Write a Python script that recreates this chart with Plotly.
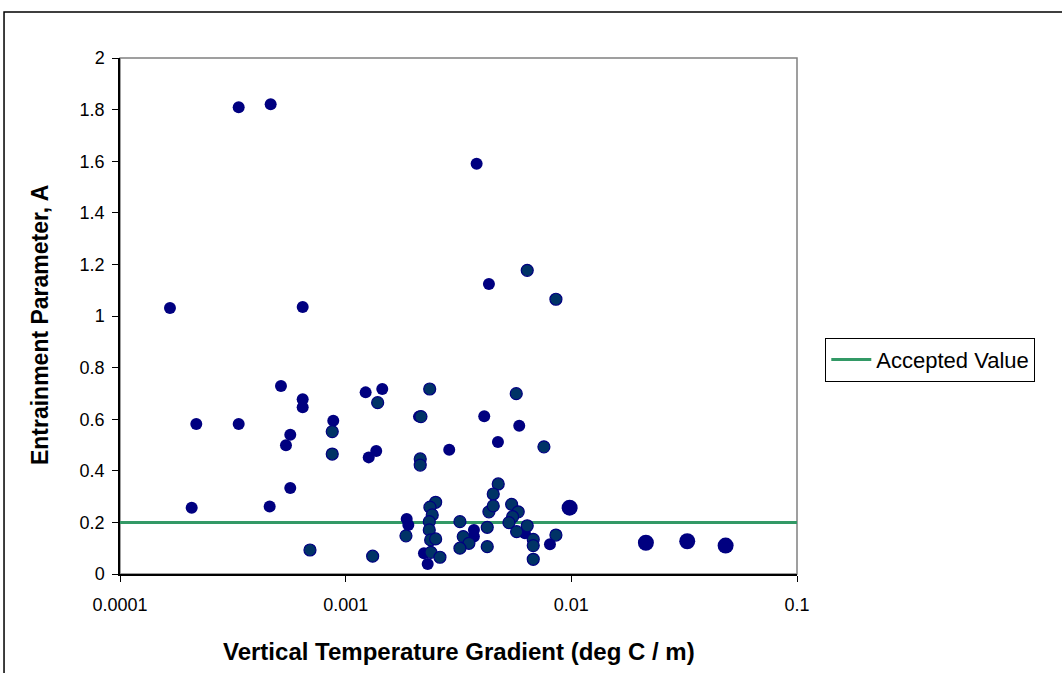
import plotly.graph_objects as go

# Series 1: navy markers
navy_x = [3.357e-4, 4.652e-4, 3.805e-3, 4.313e-3, 1.665e-4, 6.449e-4, 5.168e-4, 6.449e-4, 6.449e-4,
          2.178e-4, 3.357e-4, 8.813e-4, 5.683e-4, 5.438e-4, 5.683e-4, 2.078e-4, 4.605e-4,
          1.226e-3, 1.453e-3, 1.366e-3, 1.265e-3, 2.113e-3, 4.112e-3, 5.877e-3, 4.729e-3,
          2.877e-3, 1.864e-3, 1.895e-3, 2.223e-3, 2.309e-3, 3.702e-3, 3.702e-3, 6.228e-3, 8.04e-3]
navy_y = [1.809, 1.821, 1.590, 1.124, 1.031, 1.035, 0.729, 0.677, 0.646,
          0.581, 0.581, 0.594, 0.540, 0.499, 0.333, 0.257, 0.262,
          0.704, 0.717, 0.477, 0.452, 0.610, 0.611, 0.575, 0.512,
          0.482, 0.213, 0.190, 0.080, 0.039, 0.171, 0.145, 0.158, 0.115]

# Series 2: dark teal markers
teal_x = [6.376e-3, 8.546e-3, 1.386e-3, 8.72e-4, 8.72e-4, 2.357e-3, 5.700e-3, 2.156e-3, 7.56e-3,
          2.140e-3, 2.140e-3, 6.948e-4, 1.317e-3, 1.850e-3, 2.505e-3, 2.363e-3, 2.419e-3,
          2.347e-3, 2.347e-3, 2.380e-3, 2.505e-3, 2.387e-3, 2.617e-3, 3.209e-3, 3.319e-3,
          3.517e-3, 3.209e-3, 4.313e-3, 4.240e-3, 4.240e-3, 4.743e-3, 4.508e-3, 4.508e-3,
          5.438e-3, 5.816e-3, 5.494e-3, 5.291e-3, 5.722e-3, 6.376e-3, 6.78e-3, 6.78e-3,
          6.78e-3, 8.546e-3]
teal_y = [1.177, 1.065, 0.664, 0.552, 0.465, 0.717, 0.699, 0.610, 0.493,
          0.446, 0.422, 0.093, 0.069, 0.148, 0.278, 0.259, 0.229,
          0.203, 0.171, 0.132, 0.136, 0.084, 0.065, 0.203, 0.145,
          0.119, 0.100, 0.241, 0.181, 0.106, 0.349, 0.310, 0.264,
          0.270, 0.241, 0.222, 0.199, 0.164, 0.187, 0.134, 0.110,
          0.057, 0.151]

# Series 3: large navy markers
big_x = [9.829e-3, 2.140e-2, 3.263e-2, 4.827e-2]
big_y = [0.257, 0.121, 0.127, 0.110]

# Accepted value line
accepted_x = [0.0001, 0.1]
accepted_y = [0.2, 0.2]
accepted_name = "Accepted Value"

x_tickvals = [0.0001, 0.001, 0.01, 0.1]
x_ticktext = ["0.0001", "0.001", "0.01", "0.1"]

FONT = "Liberation Sans, Arial, sans-serif"

fig = go.Figure()
fig.add_trace(go.Scatter(x=accepted_x, y=accepted_y, mode="lines", name=accepted_name,
                         line=dict(color="#339966", width=3), showlegend=True))
fig.add_trace(go.Scatter(x=navy_x, y=navy_y, mode="markers", showlegend=False,
                         marker=dict(color="#000080", size=12, line=dict(width=0))))
fig.add_trace(go.Scatter(x=teal_x, y=teal_y, mode="markers", showlegend=False,
                         marker=dict(color="#003366", size=12, line=dict(color="#000080", width=1.2))))
fig.add_trace(go.Scatter(x=big_x, y=big_y, mode="markers", showlegend=False,
                         marker=dict(color="#000080", size=16, line=dict(width=0))))

fig.update_layout(
    width=1062, height=673,
    margin=dict(l=120, r=265, t=58, b=99),
    paper_bgcolor="white", plot_bgcolor="white",
    font=dict(family=FONT, size=18, color="black"),
    showlegend=True,
    legend=dict(x=1.0418, y=0.458, xanchor="left", yanchor="top",
                bordercolor="black", borderwidth=1, bgcolor="white",
                font=dict(size=22, family=FONT), itemwidth=40, tracegroupgap=0),
    xaxis=dict(type="log", range=[-4, -1], tickvals=x_tickvals, ticktext=x_ticktext,
               showgrid=False, zeroline=False, showline=True, linecolor="black", linewidth=1.5,
               ticks="outside", ticklen=6, tickcolor="black", tickwidth=1,
               ticklabelstandoff=8, tickfont=dict(size=18, family=FONT)),
    yaxis=dict(range=[0, 2], dtick=0.2, tick0=0,
               showgrid=False, zeroline=False, showline=True, linecolor="black", linewidth=1.5,
               ticks="outside", ticklen=6, tickcolor="black", tickwidth=1,
               ticklabelstandoff=4, tickfont=dict(size=18, family=FONT)),
    shapes=[
        dict(type="rect", xref="paper", yref="paper", x0=0, x1=1, y0=0, y1=1,
             line=dict(color="#808080", width=1.5), layer="below"),
        dict(type="rect", xref="paper", yref="paper", x0=-0.1713, x1=1.6, y0=-0.3, y1=1.0891,
             line=dict(color="black", width=1.5), layer="below"),
    ],
    annotations=[
        dict(text="<b>Vertical Temperature Gradient (deg C / m)</b>", xref="paper", yref="paper",
             x=0.5007, y=-0.151, xanchor="center", yanchor="middle", showarrow=False,
             font=dict(size=24, family=FONT)),
        dict(text="<b>Entrainment Parameter, A</b>", xref="paper", yref="paper",
             x=-0.118, y=0.4826, xanchor="center", yanchor="middle", showarrow=False,
             textangle=-90, font=dict(size=23, family=FONT)),
    ],
)

fig.write_html("out.html", config={"displayModeBar": False},
               post_script="document.body.style.margin='0';document.body.style.overflow='hidden';")
